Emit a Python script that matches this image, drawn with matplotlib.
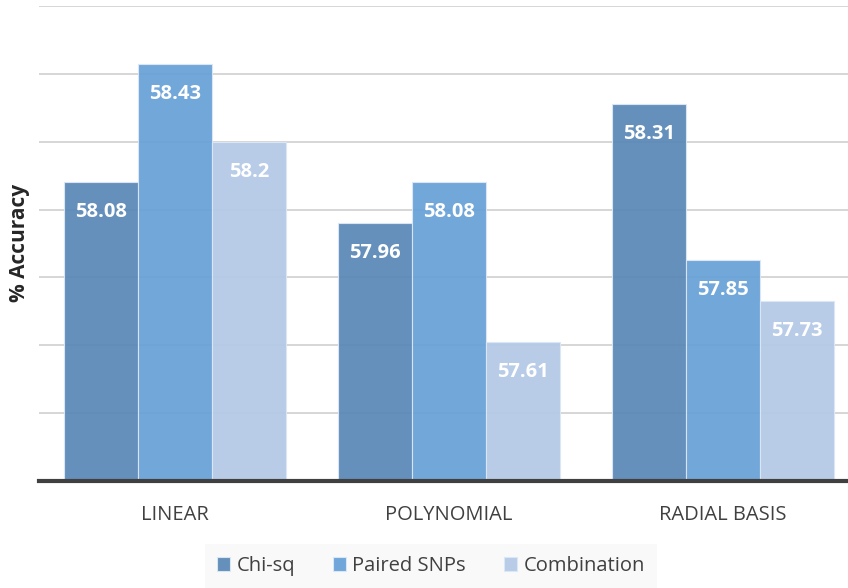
import numpy as np
import matplotlib
matplotlib.use('Agg')
import matplotlib.pyplot as plt

# Accuracy per kernel and feature set
kernels = ['LINEAR', 'POLYNOMIAL', 'RADIAL BASIS']
series = ['Chi-sq', 'Paired SNPs', 'Combination']
chi_sq = [58.08, 57.96, 58.31]
paired_snps = [58.43, 58.08, 57.85]
combination = [58.2, 57.61, 57.73]
colors = ['#5a88b7', '#67a0d8', '#b3c9e7']

plt.rcParams['font.family'] = ['Open Sans', 'DejaVu Sans']

fig = plt.figure(figsize=(8.48, 5.88), dpi=100)
ax = fig.add_axes([39 / 848, 1 - 481 / 588, 809 / 848, 475 / 588])

x = np.arange(len(kernels))
width = 0.27
for i, (vals, name, c) in enumerate(zip([chi_sq, paired_snps, combination], series, colors)):
    pos = x + (i - 1) * width
    bars = ax.bar(pos, vals, width, bottom=0, color=c, edgecolor='#dce8f5',
                  linewidth=0.8, label=name, alpha=0.93, zorder=2)
    for b, v in zip(bars, vals):
        ax.text(b.get_x() + b.get_width() / 2, v - 0.088, f'{v:g}',
                ha='center', va='center', color='white', fontsize=14.5,
                fontweight='bold', zorder=3)

ax.set_ylim(57.2, 58.6)
ax.set_xlim(-0.496, 2.456)
ax.set_yticks(np.arange(57.2, 58.61, 0.2))
ax.set_yticklabels([])
ax.tick_params(axis='y', length=0)
ax.tick_params(axis='x', length=0, pad=17, labelsize=14.5, labelcolor='#404040')
ax.set_xticks(x)
ax.set_xticklabels(kernels)
ax.grid(axis='y', color='#d0d0d0', linewidth=1.2, zorder=1)
ax.set_axisbelow(True)
for s in ['top', 'right', 'left']:
    ax.spines[s].set_visible(False)
ax.spines['bottom'].set_color('#404040')
ax.spines['bottom'].set_linewidth(3)
ax.spines['bottom'].set_zorder(4)

fig.text(20 / 848, 1 - 243 / 588, '% Accuracy', rotation=90, ha='center',
         va='center', fontsize=15, fontweight='bold', color='#262626')

leg = fig.legend(loc='center', bbox_to_anchor=(431 / 848, 1 - 566 / 588), ncol=3,
                 frameon=True, fontsize=14.5, handlelength=0.65, handleheight=0.65,
                 handletextpad=0.3, columnspacing=1.9, borderpad=0.6)
leg.get_frame().set_facecolor('#f8f8f8')
leg.get_frame().set_edgecolor('none')
leg.get_frame().set_boxstyle('square', pad=0)
for t in leg.get_texts():
    t.set_color('#404040')

fig.savefig('out.png', dpi=100)
